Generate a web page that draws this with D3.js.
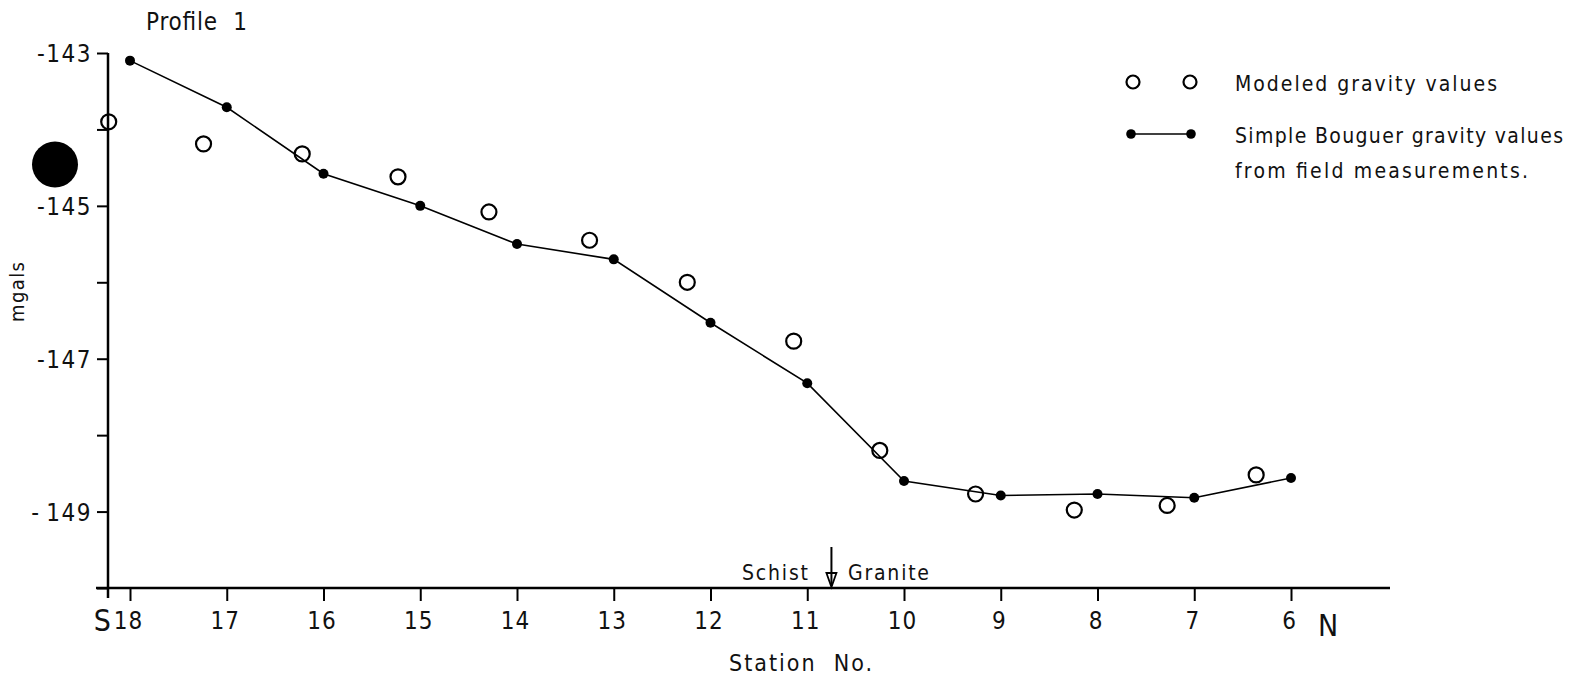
<!DOCTYPE html>
<html>
<head>
<meta charset="utf-8">
<script src="https://cdn.jsdelivr.net/npm/d3@7"></script>
<style>
  html,body{margin:0;padding:0;background:#fff;}
  svg{display:block;}
  text{font-family:"DejaVu Sans Condensed","DejaVu Sans",sans-serif;font-stretch:condensed;fill:#111;}
</style>
</head>
<body>
<script>
// ---- data ----
const stations = [18,17,16,15,14,13,12,11,10,9,8,7,6];
const bouguer = [-143.10,-143.71,-144.58,-145.00,-145.50,-145.70,-146.53,-147.32,-148.60,-148.79,-148.77,-148.82,-148.56];
const modeledStation = [18.22,17.24,16.22,15.23,14.29,13.25,12.24,11.14,10.25,9.26,8.24,7.28,6.36];
const modeledValue = [-143.90,-144.19,-144.32,-144.62,-145.08,-145.45,-146.00,-146.77,-148.20,-148.77,-148.98,-148.92,-148.52];
const yTickValues = [-150,-149,-148,-147,-146,-145,-144,-143];
const yLabelValues = [-149,-147,-145,-143];
const yLabelTexts = ["-\u2009149","-147","-145","-143"];
const contactStation = 10.75;
const legendTexts = ["Modeled gravity values","Simple Bouguer gravity values","from field measurements."];

const W = 1578, H = 684;
const FONT = "'DejaVu Sans Condensed','DejaVu Sans',sans-serif";
const svg = d3.select("body").append("svg").attr("width",W).attr("height",H);

const x = d3.scaleLinear().domain([18,6]).range([130,1291]);
const y = d3.scaleLinear().domain([-150,-143]).range([588,53]);

// punch-hole artifact in the scanned figure
svg.append("circle").attr("cx",55).attr("cy",164.5).attr("r",23).attr("fill","#000");

function txt(xp, yp, s, size, anchor, len){
  const t = svg.append("text").attr("x",xp).attr("y",yp).attr("font-size",size)
    .attr("text-anchor",anchor||"start").attr("xml:space","preserve").text(s);
  if(len){ t.attr("textLength",len).attr("lengthAdjust","spacing"); }
  return t;
}

// y axis
const yAxis = d3.axisLeft(y).tickValues(yTickValues).tickSize(11)
  .tickFormat(d => { const i = yLabelValues.indexOf(d); return i>=0 ? yLabelTexts[i] : ""; });
const gy = svg.append("g").attr("transform","translate(108,0)").call(yAxis);
gy.select(".domain").remove();
gy.selectAll(".tick line").attr("stroke","#000").attr("stroke-width",2);
gy.selectAll(".tick text").attr("font-size",24).attr("x",-16).attr("dy","0.36em")
  .attr("letter-spacing","1.5px").attr("font-family",FONT).attr("fill","#111");
svg.append("line").attr("x1",108).attr("x2",108).attr("y1",y(-143)).attr("y2",598)
  .attr("stroke","#000").attr("stroke-width",2.5);

// x axis
const xAxis = d3.axisBottom(x).tickValues(stations).tickSize(13).tickFormat(d3.format("d"));
const gx = svg.append("g").attr("transform",`translate(0,${y(-150)})`).call(xAxis);
gx.select(".domain").remove();
gx.selectAll(".tick line").attr("stroke","#000").attr("stroke-width",2);
gx.selectAll(".tick text").attr("font-size",24).attr("y",41).attr("dy","0").attr("x",-2)
  .attr("letter-spacing","1px").attr("font-family",FONT).attr("fill","#111");
svg.append("line").attr("x1",96).attr("x2",1390).attr("y1",y(-150)).attr("y2",y(-150))
  .attr("stroke","#000").attr("stroke-width",2.5);

// S / N
txt(111, 631, "S", 30, "end");
txt(1318, 636, "N", 30, "start");

// titles
txt(729, 671, "Station  No.", 23, "start", 143);
svg.append("text").attr("transform","translate(24,292) rotate(-90)").attr("text-anchor","middle")
  .attr("font-size",20).attr("textLength",60).attr("lengthAdjust","spacing").text("mgals");
txt(146, 30, "Profile  1", 24, "start", 101);

// contact annotation
const cx = x(contactStation);
svg.append("line").attr("x1",cx).attr("x2",cx).attr("y1",547).attr("y2",586).attr("stroke","#000").attr("stroke-width",2);
svg.append("path").attr("d",`M${cx-5},${573}L${cx+5},${573}L${cx},${587}Z`).attr("fill","none").attr("stroke","#000").attr("stroke-width",1.8);
txt(742, 580, "Schist", 21, "start", 66);
txt(848, 580, "Granite", 21, "start", 81);

// Bouguer line + dots
const line = d3.line().x((d,i)=>x(stations[i])).y(d=>y(d));
svg.append("path").datum(bouguer).attr("d",line).attr("fill","none").attr("stroke","#000").attr("stroke-width",1.6);
svg.selectAll(".bdot").data(bouguer).enter().append("circle")
  .attr("cx",(d,i)=>x(stations[i])).attr("cy",d=>y(d)).attr("r",5).attr("fill","#000");

// Modeled circles
svg.selectAll(".mdot").data(modeledValue).enter().append("circle")
  .attr("cx",(d,i)=>x(modeledStation[i])).attr("cy",d=>y(d)).attr("r",7.5)
  .attr("fill","none").attr("stroke","#000").attr("stroke-width",2.2);

// legend
svg.append("circle").attr("cx",1133).attr("cy",82).attr("r",6.5).attr("fill","none").attr("stroke","#000").attr("stroke-width",2.2);
svg.append("circle").attr("cx",1190).attr("cy",82).attr("r",6.5).attr("fill","none").attr("stroke","#000").attr("stroke-width",2.2);
svg.append("line").attr("x1",1131).attr("x2",1191).attr("y1",134).attr("y2",134).attr("stroke","#000").attr("stroke-width",1.6);
svg.append("circle").attr("cx",1131).attr("cy",134).attr("r",4.8).attr("fill","#000");
svg.append("circle").attr("cx",1191).attr("cy",134).attr("r",4.8).attr("fill","#000");
txt(1235, 91, legendTexts[0], 21, "start", 262);
txt(1235, 143, legendTexts[1], 21, "start", 328);
txt(1235, 178, legendTexts[2], 21, "start", 293);
</script>
</body>
</html>
